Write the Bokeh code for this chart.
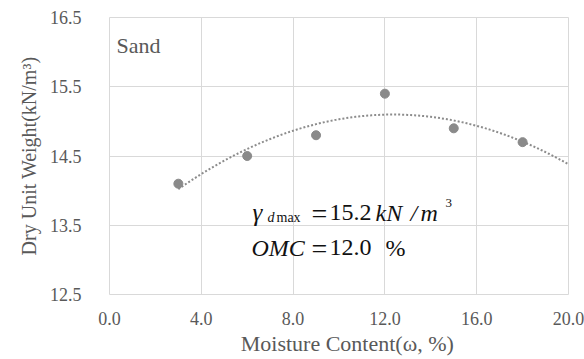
import numpy as np
from bokeh.plotting import figure
from bokeh.models import FixedTicker, Label, Range1d, CustomJSTickFormatter
from bokeh.embed import file_html
from bokeh.resources import INLINE

# ---- data ----
moisture = [3.0, 6.0, 9.0, 12.0, 15.0, 18.0]
dry_unit_weight = [14.1, 14.5, 14.8, 15.4, 14.9, 14.7]
x_ticks = [0, 4, 8, 12, 16, 20]
y_ticks = [12.5, 13.5, 14.5, 15.5, 16.5]
soil_name = "Sand"
gamma_dmax_text = "15.2"
omc_text = "12.0"

FONT = "Liberation Serif"
GRAY_TXT = "#595959"

W, H = 584, 359
# frame geometry (page px) used only to place annotation texts
L, R, T, B = 109, 568, 17, 294
X0, X1, Y0, Y1 = 0.0, 20.0, 12.5, 16.5


def dx(px):
    return X0 + (px - L) / (R - L) * (X1 - X0)


def dy(py):
    return Y1 - (py - T) / (B - T) * (Y1 - Y0)


p = figure(width=W, height=H,
           min_border_left=L, min_border_right=W - R, min_border_top=T,
           min_border_bottom=H - B, output_backend="svg", toolbar_location=None,
           x_range=Range1d(X0, X1), y_range=Range1d(Y0, Y1))
p.background_fill_color = "white"
p.border_fill_color = "white"
p.outline_line_color = "#d9d9d9"
p.outline_line_width = 1

for ax in (p.xaxis[0], p.yaxis[0]):
    ax.axis_line_color = None
    ax.major_tick_line_color = None
    ax.minor_tick_line_color = None
    ax.major_label_text_font = FONT
    ax.major_label_text_font_size = "18px"
    ax.major_label_text_color = GRAY_TXT
    ax.axis_label_text_font = FONT
    ax.axis_label_text_font_style = "normal"
    ax.axis_label_text_color = GRAY_TXT
    ax.formatter = CustomJSTickFormatter(code="return tick.toFixed(1);")

p.xaxis.ticker = FixedTicker(ticks=x_ticks)
p.yaxis.ticker = FixedTicker(ticks=y_ticks)
p.xaxis.axis_label = "\u00a0\u00a0\u00a0Moisture Content(ω, %)"
p.yaxis.axis_label = "Dry Unit Weight(kN/m³)"
p.xaxis.axis_label_text_font_size = "22px"
p.yaxis.axis_label_text_font_size = "20px"
p.xaxis.major_label_standoff = 11
p.yaxis.major_label_standoff = 22
p.xaxis.axis_label_standoff = 3
p.yaxis.axis_label_standoff = 7

p.xgrid.ticker = FixedTicker(ticks=x_ticks)
p.ygrid.ticker = FixedTicker(ticks=y_ticks)
p.grid.grid_line_color = "#d9d9d9"
p.grid.grid_line_width = 1

# polynomial (order 2) trendline fitted to the measured points
coef = np.polyfit(moisture, dry_unit_weight, 2)
xs = np.linspace(min(moisture), X1, 120)
p.line(xs, np.polyval(coef, xs), line_color="#8c8c8c", line_width=2, line_dash="2 2")

p.scatter(moisture, dry_unit_weight, size=9, fill_color="#8a8a8a", line_color="#8a8a8a")


def lab(text, px, py, size, style="normal", color="#111111"):
    p.add_layout(Label(x=dx(px), y=dy(py), text=text, text_font=FONT,
                       text_font_size=f"{size}px", text_font_style=style,
                       text_color=color, text_baseline="alphabetic", text_align="left"))


lab(soil_name, 116, 45, 22, color=GRAY_TXT)

# line 1: gamma_dmax = 15.2 kN / m^3
lab("γ", 252, 212, 25, "italic")
lab("d", 267, 217, 14, "italic")
lab("max", 276, 217, 14)
lab("=", 311, 213, 28)
lab(gamma_dmax_text, 329, 212, 24)
lab("kN", 375, 212, 24, "italic")
lab("/", 410, 212, 24, "italic")
lab("m", 420, 212, 24, "italic")
lab("3", 445, 202, 13)

# line 2: OMC = 12.0 %
lab("OMC", 251, 247, 24, "italic")
lab("=", 311, 248, 28)
lab(omc_text, 329, 247, 24)
lab("%", 385, 247, 24)

open("out.html", "w").write(file_html(p, INLINE))
